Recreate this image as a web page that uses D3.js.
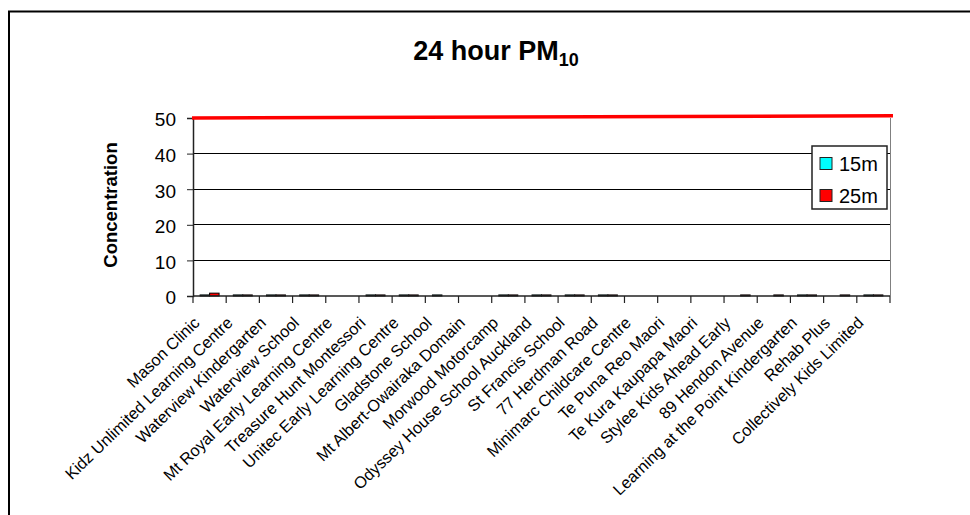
<!DOCTYPE html>
<html>
<head>
<meta charset="utf-8">
<script src="https://cdn.jsdelivr.net/npm/d3@7"></script>
<style>
  html, body { margin: 0; padding: 0; background: #fff; }
  svg { display: block; font-family: Arial, "Liberation Sans", sans-serif; }
</style>
</head>
<body>
<svg id="chart" width="970" height="515"></svg>
<script>
// Monitoring sites along the x axis
const sites = [
  "Mason Clinic", "Kidz Unlimited Learning Centre", "Waterview Kindergarten",
  "Waterview School", "Mt Royal Early Learning Centre", "Treasure Hunt Montessori",
  "Unitec Early Learning Centre", "Gladstone School", "Mt Albert-Owairaka Domain",
  "Morwood Motorcamp", "Odyssey House School Auckland", "St Francis School",
  "77 Herdman Road", "Minimarc Childcare Centre", "Te Puna Reo Maori",
  "Te Kura Kaupapa Maori", "Stylee Kids Ahead Early", "89 Hendon Avenue",
  "Learning at the Point Kindergarten", "Rehab Plus", "Collectively Kids Limited"
];

// 24 hour PM10 concentration at each site (null = no value)
const pm15m = [0.3, 0.3, 0.3, 0.3, null, 0.3, 0.3, 0.3, null, 0.3, 0.3,
               0.3, 0.3, null, null, null, null, null, 0.3, null, 0.3];
const pm25m = [0.8, 0.3, 0.3, 0.3, null, 0.3, 0.3, null, null, 0.3, 0.3,
               0.3, 0.3, null, null, null, 0.3, 0.3, 0.3, 0.3, 0.3];

// Guideline drawn across the plot (start value, end value)
const guideline = [50, 50.6];

const seriesNames = ["15m", "25m"];
const seriesColors = ["#00FFFF", "#FF0000"];
const yTicks = [0, 10, 20, 30, 40, 50];

const svg = d3.select("#chart");
const plot = { left: 193, right: 890, top: 118, bottom: 296 };

// Outer chart frame
svg.append("rect")
  .attr("x", 9).attr("y", 11.5)
  .attr("width", 1000).attr("height", 600)
  .attr("fill", "none").attr("stroke", "#000").attr("stroke-width", 2);

const x = d3.scaleBand().domain(sites).range([plot.left, plot.right]).padding(0);
const y = d3.scaleLinear().domain([0, 50]).range([plot.bottom, plot.top]);

// Horizontal gridlines
svg.append("g").selectAll("line")
  .data(yTicks.filter(t => t > 0 && t < 50))
  .join("line")
  .attr("x1", plot.left).attr("x2", plot.right)
  .attr("y1", d => y(d)).attr("y2", d => y(d))
  .attr("stroke", "#000").attr("stroke-width", 1)
  .attr("shape-rendering", "crispEdges");

// Right border of the plot area
svg.append("line")
  .attr("x1", plot.right + 0.5).attr("x2", plot.right + 0.5)
  .attr("y1", plot.top).attr("y2", plot.bottom)
  .attr("stroke", "#808080").attr("stroke-width", 1);

// Bars
const bw = x.bandwidth() / 3.5;
const series = [pm15m, pm25m];
series.forEach((vals, si) => {
  svg.append("g").selectAll("rect")
    .data(sites.map((s, i) => ({ site: s, v: vals[i] })).filter(d => d.v != null))
    .join("rect")
    .attr("x", d => x(d.site) + x.bandwidth() / 2 - bw + si * bw)
    .attr("y", d => y(d.v))
    .attr("width", bw)
    .attr("height", d => y(0) - y(d.v))
    .attr("fill", seriesColors[si])
    .attr("stroke", "#000").attr("stroke-width", 1);
});

// Y axis
const yAxis = svg.append("g")
  .attr("transform", `translate(${plot.left},0)`)
  .call(d3.axisLeft(y).tickValues(yTicks).tickSize(6).tickPadding(11).tickFormat(d3.format("d")));
yAxis.select(".domain").attr("stroke", "#222").attr("stroke-width", 1.5);
yAxis.selectAll(".tick line").attr("stroke", "#222");
yAxis.selectAll(".tick text")
  .attr("font-size", 19).attr("fill", "#000")
  .attr("font-family", "Arial, 'Liberation Sans', sans-serif")
  .attr("dy", "0.42em");

// X axis: ticks at category boundaries
const xg = svg.append("g");
xg.append("line")
  .attr("x1", plot.left).attr("x2", plot.right)
  .attr("y1", plot.bottom).attr("y2", plot.bottom)
  .attr("stroke", "#222").attr("stroke-width", 1.5);
const bounds = sites.map(s => x(s)).concat([x(sites[sites.length - 1]) + x.bandwidth()]);
xg.selectAll("line.tk").data(bounds).join("line")
  .attr("class", "tk")
  .attr("x1", d => d).attr("x2", d => d)
  .attr("y1", plot.bottom).attr("y2", plot.bottom + 7)
  .attr("stroke", "#222").attr("stroke-width", 1.2);

// Rotated category labels
xg.selectAll("text").data(sites).join("text")
  .attr("transform", d => `translate(${x(d) + x.bandwidth() / 2 - 9},${plot.bottom + 28}) rotate(-44)`)
  .attr("text-anchor", "end")
  .attr("font-size", 16.3)
  .attr("fill", "#000")
  .text(d => d);

// Guideline at the limit value
svg.append("line")
  .attr("x1", plot.left - 1).attr("x2", plot.right + 3)
  .attr("y1", y(guideline[0])).attr("y2", y(guideline[1]))
  .attr("stroke", "#FF0000").attr("stroke-width", 3.5);

// Y axis title
svg.append("text")
  .attr("transform", "translate(117,205) rotate(-90)")
  .attr("text-anchor", "middle")
  .attr("font-size", 18.5).attr("font-weight", "bold")
  .text("Concentration");

// Chart title with subscript
const title = svg.append("text")
  .attr("x", 496).attr("y", 60)
  .attr("text-anchor", "middle")
  .attr("font-size", 27).attr("font-weight", "bold");
title.append("tspan").text("24 hour PM");
title.append("tspan").attr("font-size", 18).attr("dy", 6).text("10");

// Legend
const lg = svg.append("g").attr("transform", "translate(812,146)");
lg.append("rect")
  .attr("x", 0).attr("y", 0).attr("width", 75).attr("height", 63)
  .attr("fill", "#fff").attr("stroke", "#222").attr("stroke-width", 1.5);
seriesNames.forEach((name, i) => {
  lg.append("rect")
    .attr("x", 8).attr("y", 11.5 + i * 32).attr("width", 12).attr("height", 12)
    .attr("fill", seriesColors[i]).attr("stroke", "#222").attr("stroke-width", 1);
  lg.append("text")
    .attr("x", 27).attr("y", 25 + i * 32)
    .attr("font-size", 20)
    .text(name);
});
</script>
</body>
</html>
